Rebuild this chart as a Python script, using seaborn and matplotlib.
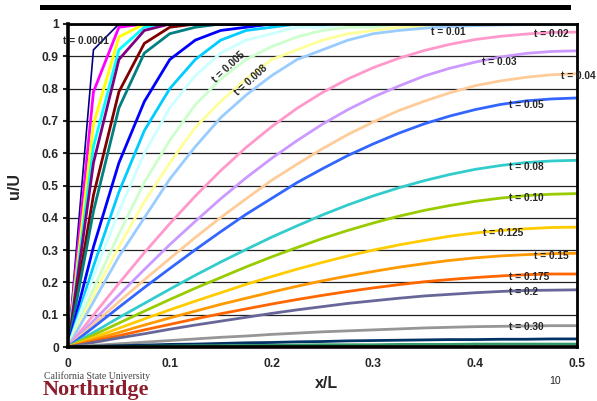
import matplotlib
matplotlib.use("Agg")
import pandas as pd
import matplotlib.pyplot as plt
import seaborn as sns
from matplotlib.patches import Rectangle

# x positions (x/L) shared by every curve
x_over_L = [0, 0.025, 0.05, 0.075, 0.1, 0.125, 0.15, 0.175, 0.2, 0.225, 0.25,
            0.275, 0.3, 0.325, 0.35, 0.375, 0.4, 0.425, 0.45, 0.475, 0.5]

# u/U, one list per time value
u_t0001 = [0, 0.92, 1, 1, 1, 1, 1, 1, 1, 1, 1, 1, 1, 1, 1, 1, 1, 1, 1, 1, 1]
u_t0002 = [0, 0.79, 0.99, 1, 1, 1, 1, 1, 1, 1, 1, 1, 1, 1, 1, 1, 1, 1, 1, 1, 1]
u_t0003 = [0, 0.69, 0.96, 1, 1, 1, 1, 1, 1, 1, 1, 1, 1, 1, 1, 1, 1, 1, 1, 1, 1]
u_t0004 = [0, 0.62, 0.92, 0.99, 1, 1, 1, 1, 1, 1, 1, 1, 1, 1, 1, 1, 1, 1, 1, 1, 1]
u_t0005 = [0, 0.57, 0.89, 0.98, 1, 1, 1, 1, 1, 1, 1, 1, 1, 1, 1, 1, 1, 1, 1, 1, 1]
u_t0008 = [0, 0.47, 0.79, 0.94, 0.99, 1, 1, 1, 1, 1, 1, 1, 1, 1, 1, 1, 1, 1, 1, 1, 1]
u_t001 = [0, 0.42, 0.74, 0.91, 0.97, 0.99, 1, 1, 1, 1, 1, 1, 1, 1, 1, 1, 1, 1, 1, 1, 1]
u_t002 = [0, 0.31, 0.57, 0.76, 0.89, 0.95, 0.98, 0.99, 1, 1, 1, 1, 1, 1, 1, 1, 1, 1, 1, 1, 1]
u_t003 = [0, 0.25, 0.48, 0.67, 0.80, 0.89, 0.95, 0.98, 0.99, 1, 1, 1, 1, 1, 1, 1, 1, 1, 1, 1, 1]
u_t004 = [0, 0.22, 0.42, 0.60, 0.74, 0.84, 0.91, 0.95, 0.97, 0.99, 0.99, 1, 1, 1, 1, 1, 1, 1, 1, 1, 1]
u_t006 = [0, 0.18, 0.35, 0.51, 0.64, 0.75, 0.83, 0.89, 0.93, 0.96, 0.98, 0.99, 0.99, 1, 1, 1, 1, 1, 1, 1, 1]
u_t008 = [0, 0.16, 0.31, 0.45, 0.57, 0.68, 0.76, 0.83, 0.89, 0.92, 0.95, 0.97, 0.98, 0.99, 0.99, 1, 1, 1, 1, 1, 1]
u_t01 = [0, 0.14, 0.28, 0.40, 0.52, 0.62, 0.71, 0.78, 0.84, 0.89, 0.92, 0.95, 0.97, 0.98, 0.987,
         0.992, 0.995, 0.997, 0.998, 0.999, 0.999]
u_t02 = [0, 0.099, 0.197, 0.292, 0.382, 0.467, 0.546, 0.618, 0.682, 0.739, 0.788, 0.830, 0.865,
         0.894, 0.918, 0.937, 0.952, 0.962, 0.969, 0.974, 0.975]
u_t03 = [0, 0.081, 0.161, 0.240, 0.317, 0.389, 0.459, 0.524, 0.584, 0.639, 0.690, 0.735, 0.774,
         0.808, 0.839, 0.863, 0.882, 0.898, 0.909, 0.915, 0.917]
u_t04 = [0, 0.070, 0.140, 0.208, 0.274, 0.339, 0.401, 0.459, 0.516, 0.566, 0.614, 0.658, 0.697,
         0.732, 0.761, 0.787, 0.809, 0.824, 0.835, 0.843, 0.846]
u_t05 = [0, 0.061, 0.123, 0.184, 0.243, 0.301, 0.357, 0.411, 0.460, 0.509, 0.552, 0.593, 0.629,
         0.662, 0.691, 0.715, 0.735, 0.751, 0.762, 0.768, 0.771]
u_t08 = [0, 0.045, 0.091, 0.135, 0.179, 0.222, 0.263, 0.302, 0.340, 0.375, 0.409, 0.440, 0.468,
         0.493, 0.515, 0.534, 0.550, 0.562, 0.571, 0.576, 0.578]
u_t10 = [0, 0.037, 0.074, 0.111, 0.147, 0.182, 0.215, 0.248, 0.279, 0.308, 0.336, 0.361, 0.384,
         0.405, 0.423, 0.438, 0.451, 0.461, 0.469, 0.473, 0.475]
u_t125 = [0, 0.029, 0.058, 0.087, 0.115, 0.142, 0.168, 0.194, 0.218, 0.241, 0.262, 0.282, 0.300,
          0.316, 0.330, 0.343, 0.353, 0.361, 0.366, 0.370, 0.371]
u_t15 = [0, 0.023, 0.045, 0.068, 0.090, 0.111, 0.132, 0.151, 0.170, 0.188, 0.205, 0.220, 0.234,
         0.247, 0.258, 0.268, 0.276, 0.282, 0.286, 0.289, 0.290]
u_t175 = [0, 0.018, 0.035, 0.053, 0.070, 0.087, 0.103, 0.118, 0.133, 0.147, 0.160, 0.172, 0.183,
          0.193, 0.202, 0.209, 0.215, 0.220, 0.224, 0.226, 0.226]
u_t20 = [0, 0.014, 0.028, 0.041, 0.055, 0.068, 0.080, 0.092, 0.104, 0.115, 0.125, 0.135, 0.143,
         0.151, 0.158, 0.163, 0.168, 0.172, 0.175, 0.176, 0.177]
u_t30 = [0, 0.005, 0.010, 0.015, 0.020, 0.025, 0.030, 0.034, 0.039, 0.043, 0.047, 0.050, 0.053,
         0.056, 0.059, 0.061, 0.063, 0.064, 0.065, 0.066, 0.066]
u_t40 = [0, 0.002, 0.004, 0.006, 0.008, 0.009, 0.011, 0.013, 0.014, 0.016, 0.017, 0.019, 0.020,
         0.021, 0.022, 0.023, 0.023, 0.024, 0.024, 0.025, 0.025]
u_t50 = [0, 0.001, 0.001, 0.002, 0.003, 0.004, 0.004, 0.005, 0.005, 0.006, 0.007, 0.007, 0.007,
         0.008, 0.008, 0.008, 0.009, 0.009, 0.009, 0.009, 0.009]

times = ["0.0001", "0.0002", "0.0003", "0.0004", "0.0005", "0.0008", "0.001",
         "0.002", "0.003", "0.004", "0.006", "0.008", "0.01", "0.02", "0.03",
         "0.04", "0.05", "0.08", "0.10", "0.125", "0.15", "0.175", "0.2",
         "0.30", "0.40", "0.50"]
curves = [u_t0001, u_t0002, u_t0003, u_t0004, u_t0005, u_t0008, u_t001,
          u_t002, u_t003, u_t004, u_t006, u_t008, u_t01, u_t02, u_t03,
          u_t04, u_t05, u_t08, u_t10, u_t125, u_t15, u_t175, u_t20,
          u_t30, u_t40, u_t50]

# Excel's default series colours, in series order
colors = ["#000080", "#FF00FF", "#FFFF00", "#00FFFF", "#800080", "#800000",
          "#008080", "#0000FF", "#00CCFF", "#CCFFFF", "#CCFFCC", "#FFFF99",
          "#99CCFF", "#FF99CC", "#CC99FF", "#FFCC99", "#3366FF", "#33CCCC",
          "#99CC00", "#FFCC00", "#FF9900", "#FF6600", "#666699", "#969696",
          "#003366", "#339966"]

# labels written next to the curves
curve_labels = ["t = 0.0001", "t = 0.005", "t = 0.008", "t = 0.01", "t = 0.02",
                "t = 0.03", "t = 0.04", "t = 0.05", "t = 0.08", "t = 0.10",
                "t = 0.125", "t = 0.15", "t = 0.175", "t = 0.2", "t = 0.30"]
label_pos = [(0.018, 0.947, 0), (0.158, 0.867, 43), (0.180, 0.827, 42),
             (0.374, 0.975, 0), (0.4745, 0.969, 0), (0.424, 0.882, 0),
             (0.501, 0.839, 0), (0.450, 0.749, 0), (0.450, 0.557, 0),
             (0.450, 0.461, 0), (0.427, 0.353, 0), (0.4745, 0.282, 0),
             (0.453, 0.217, 0), (0.447, 0.170, 0), (0.450, 0.062, 0)]

rows = []
for t, u in zip(times, curves):
    for x, v in zip(x_over_L, u):
        rows.append((x, v, t))
df = pd.DataFrame(rows, columns=["x", "u", "t"])

sns.set_style("white")
plt.rcParams["font.family"] = ["Liberation Sans", "DejaVu Sans"]

W, H = 597, 401
fig = plt.figure(figsize=(W / 100, H / 100), dpi=100)
ax = fig.add_axes([68 / W, 1 - 347 / H, 509 / W, 323 / H])

sns.lineplot(data=df, x="x", y="u", hue="t", hue_order=times, palette=colors,
             estimator=None, sort=False, legend=False, lw=2.0, ax=ax)
ax.lines[0].set_linewidth(1.2)

ax.set_xlim(0, 0.5)
ax.set_ylim(0, 1)
ax.set_xticks([0, 0.1, 0.2, 0.3, 0.4, 0.5])
ax.set_xticklabels(["0", "0.1", "0.2", "0.3", "0.4", "0.5"])
ax.set_yticks([0, 0.1, 0.2, 0.3, 0.4, 0.5, 0.6, 0.7, 0.8, 0.9, 1.0])
ax.set_yticklabels(["0", "0.1", "0.2", "0.3", "0.4", "0.5", "0.6", "0.7", "0.8", "0.9", "1"])
ax.set_xlabel("")
ax.set_ylabel("")
ax.grid(axis="y", color="#222222", lw=0.9)
ax.set_axisbelow(True)
for side, w in [("left", 2.6), ("bottom", 2.6), ("top", 2.0), ("right", 2.0)]:
    ax.spines[side].set_visible(True)
    ax.spines[side].set_color("black")
    ax.spines[side].set_linewidth(w)
ax.tick_params(axis="y", direction="out", length=3.5, width=1.5, pad=3, labelsize=8.7, left=True)
ax.tick_params(axis="x", direction="in", length=2.5, width=1, pad=8, labelsize=8.7, bottom=True)
for lbl in ax.get_xticklabels() + ax.get_yticklabels():
    lbl.set_fontweight("bold")

for text, (x, y, rot) in zip(curve_labels, label_pos):
    ax.text(x, y, text, fontsize=7.3, fontweight="bold", ha="center", va="center",
            rotation=rot, clip_on=False)

# slide decorations
fig.add_artist(Rectangle((40 / W, 1 - 10 / H), 531 / W, 5 / H, transform=fig.transFigure,
                         color="black", lw=0))
fig.text(326 / W, 1 - 383 / H, "x/L", fontsize=11.5, fontweight="bold", ha="center", va="center")
fig.text(14 / W, 1 - 186 / H, "u/U", fontsize=11.5, fontweight="bold", ha="center", va="center",
         rotation=90)
fig.text(555 / W, 1 - 381 / H, "10", fontsize=7.6, ha="center", va="center")
fig.text(44 / W, 1 - 376 / H, "California State University", family="Liberation Serif",
         fontsize=7, color="#444444", ha="left", va="center")
fig.text(43 / W, 1 - 390 / H, "Northridge", family="Liberation Serif", fontsize=16,
         fontweight="bold", color="#8C1D2C", ha="left", va="center")

fig.savefig("out.png", dpi=100)
